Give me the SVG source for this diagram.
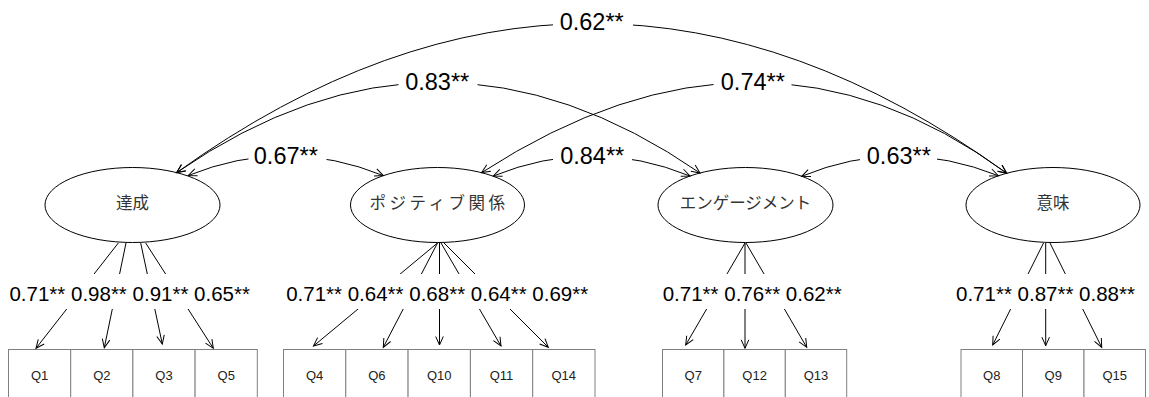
<svg xmlns="http://www.w3.org/2000/svg" width="1149" height="397" viewBox="0 0 1149 397">
  <style>
    .lat { fill: #ffffff; stroke: #000000; stroke-width: 1; }
    .lat-text { font-family: "Liberation Sans", "Noto Sans CJK JP", sans-serif; font-size: 16.5px; fill: #333333; text-anchor: middle; }
    .item { fill: #ffffff; stroke: #808080; stroke-width: 1; }
    .item-text { font-family: "Liberation Sans", Arial, sans-serif; font-size: 13px; fill: #222222; text-anchor: middle; }
    .edge { fill: none; stroke: #000000; stroke-width: 1; }
    .cov { marker-start: url(#open); marker-end: url(#open); }
    .load { marker-end: url(#open); }
    .bg { fill: #ffffff; stroke: none; }
    .corr-label { font-family: "Liberation Sans", Arial, sans-serif; font-size: 23.5px; fill: #000000; text-anchor: middle; }
    .load-label { font-family: "Liberation Sans", Arial, sans-serif; font-size: 20.5px; fill: #000000; text-anchor: middle; }
  </style>
  <defs>
    <marker id="open" viewBox="-10 -6 12 12" refX="0" refY="0" markerWidth="12" markerHeight="12" markerUnits="userSpaceOnUse" orient="auto-start-reverse" overflow="visible">
      <path d="M-8.5,-3.8 L0,0 L-8.5,3.8" fill="none" stroke="#000000" stroke-width="1"/>
    </marker>
  </defs>

  <rect x="0" y="0" width="1149" height="397" fill="#ffffff"/>

  <!-- latent factors -->
  <g id="factor-achievement">
    <ellipse class="lat" cx="132.5" cy="205" rx="87.5" ry="37.5"/>
    <text class="lat-text" x="132.5" y="209">達成</text>
  </g>
  <g id="factor-relationships">
    <ellipse class="lat" cx="437.5" cy="205" rx="87" ry="37.5"/>
    <text class="lat-text" x="439" y="209" letter-spacing="3.5">ポジティブ関係</text>
  </g>
  <g id="factor-engagement">
    <ellipse class="lat" cx="745.5" cy="205" rx="87.5" ry="37.5"/>
    <text class="lat-text" x="745.5" y="209">エンゲージメント</text>
  </g>
  <g id="factor-meaning">
    <ellipse class="lat" cx="1053" cy="205" rx="87" ry="37.5"/>
    <text class="lat-text" x="1053" y="209">意味</text>
  </g>

  <!-- observed items -->
  <g id="item-Q1"><rect class="item" x="8.5" y="349.5" width="62.2" height="60"/><text class="item-text" x="39.6" y="379.5">Q1</text></g>
  <g id="item-Q2"><rect class="item" x="70.7" y="349.5" width="62.2" height="60"/><text class="item-text" x="101.8" y="379.5">Q2</text></g>
  <g id="item-Q3"><rect class="item" x="132.9" y="349.5" width="62.2" height="60"/><text class="item-text" x="164" y="379.5">Q3</text></g>
  <g id="item-Q5"><rect class="item" x="195.1" y="349.5" width="62.2" height="60"/><text class="item-text" x="226.2" y="379.5">Q5</text></g>

  <g id="item-Q4"><rect class="item" x="283.5" y="349.5" width="62.3" height="60"/><text class="item-text" x="314.6" y="379.5">Q4</text></g>
  <g id="item-Q6"><rect class="item" x="345.8" y="349.5" width="62.3" height="60"/><text class="item-text" x="376.9" y="379.5">Q6</text></g>
  <g id="item-Q10"><rect class="item" x="408.1" y="349.5" width="62.3" height="60"/><text class="item-text" x="439.2" y="379.5">Q10</text></g>
  <g id="item-Q11"><rect class="item" x="470.4" y="349.5" width="62.3" height="60"/><text class="item-text" x="501.5" y="379.5">Q11</text></g>
  <g id="item-Q14"><rect class="item" x="532.7" y="349.5" width="62.3" height="60"/><text class="item-text" x="563.8" y="379.5">Q14</text></g>

  <g id="item-Q7"><rect class="item" x="662.5" y="349.5" width="61.4" height="60"/><text class="item-text" x="693.2" y="379.5">Q7</text></g>
  <g id="item-Q12"><rect class="item" x="723.9" y="349.5" width="61.4" height="60"/><text class="item-text" x="754.6" y="379.5">Q12</text></g>
  <g id="item-Q13"><rect class="item" x="785.3" y="349.5" width="61.4" height="60"/><text class="item-text" x="816" y="379.5">Q13</text></g>

  <g id="item-Q8"><rect class="item" x="961" y="349.5" width="61.5" height="60"/><text class="item-text" x="991.7" y="379.5">Q8</text></g>
  <g id="item-Q9"><rect class="item" x="1022.5" y="349.5" width="61.5" height="60"/><text class="item-text" x="1053.2" y="379.5">Q9</text></g>
  <g id="item-Q15"><rect class="item" x="1084" y="349.5" width="61.5" height="60"/><text class="item-text" x="1114.7" y="379.5">Q15</text></g>

  <!-- connectors: factor covariances and loadings -->
  <g id="connectors">
    <!-- covariances between factors -->
    <path class="edge cov" d="M176.7,172.6 Q592,-126 1006.7,173.2"/>
    <path class="edge cov" d="M176.7,172.6 Q438,-8 700,173"/>
    <path class="edge cov" d="M481.7,172.6 Q760,-8 1006.7,173.2"/>
    <path class="edge cov" d="M188.3,175.5 Q286,136 383.3,175.6"/>
    <path class="edge cov" d="M493.3,176 Q592,136 690,176"/>
    <path class="edge cov" d="M801.7,176.3 Q899,136 998.3,175.7"/>

    <!-- loadings -->
    <path class="edge load" d="M118.3,243 L36,348.3"/>
    <path class="edge load" d="M126,243 L104.3,347.7"/>
    <path class="edge load" d="M140.7,243 L162.3,344"/>
    <path class="edge load" d="M145.7,243 L213.3,348.3"/>

    <path class="edge load" d="M437.5,243 L313.5,346"/>
    <path class="edge load" d="M437.5,243 L383.3,347.3"/>
    <path class="edge load" d="M439.5,243 L439.5,345"/>
    <path class="edge load" d="M441,243 L501,346"/>
    <path class="edge load" d="M444,243 L548.3,347.3"/>

    <path class="edge load" d="M745,243 L685.7,345"/>
    <path class="edge load" d="M745,243 L745,348.3"/>
    <path class="edge load" d="M746,243 L806.7,347.3"/>

    <path class="edge load" d="M1043.5,243 L992.7,345"/>
    <path class="edge load" d="M1045.7,243 L1045.7,345.7"/>
    <path class="edge load" d="M1050,243 L1101.7,347.3"/>

    <!-- covariance labels -->
    <rect class="bg" x="553" y="8" width="80" height="30"/>
    <text class="corr-label" x="591.7" y="30">0.62**</text>
    <rect class="bg" x="398.5" y="68" width="79" height="28"/>
    <text class="corr-label" x="437.2" y="90">0.83**</text>
    <rect class="bg" x="713.5" y="68" width="78" height="28"/>
    <text class="corr-label" x="752.8" y="90">0.74**</text>
    <rect class="bg" x="248.5" y="143" width="78" height="27"/>
    <text class="corr-label" x="285.8" y="164.3">0.67**</text>
    <rect class="bg" x="553" y="143" width="79" height="27"/>
    <text class="corr-label" x="592.2" y="164.3">0.84**</text>
    <rect class="bg" x="860" y="143" width="77" height="27"/>
    <text class="corr-label" x="898.8" y="164.3">0.63**</text>

    <!-- loading labels -->
    <rect class="bg" x="5" y="274" width="250" height="35"/>
    <text class="load-label" x="129.7" y="300.5">0.71** 0.98** 0.91** 0.65**</text>
    <rect class="bg" x="281" y="274" width="312" height="35"/>
    <text class="load-label" x="437.2" y="300.5">0.71** 0.64** 0.68** 0.64** 0.69**</text>
    <rect class="bg" x="659" y="274" width="186" height="35"/>
    <text class="load-label" x="752.2" y="300.5">0.71** 0.76** 0.62**</text>
    <rect class="bg" x="953" y="274" width="186" height="35"/>
    <text class="load-label" x="1045.5" y="300.5">0.71** 0.87** 0.88**</text>
  </g>
</svg>
